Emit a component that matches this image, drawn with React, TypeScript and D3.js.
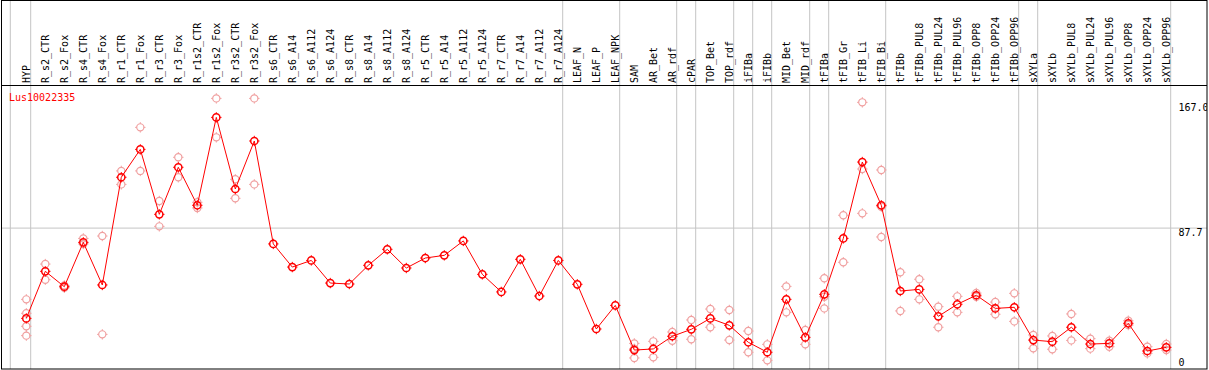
import React from "react";
import * as d3 from "d3";

const geneLabel = "Lus10022335";

const categories = [
  "HYP", "R_s2_CTR", "R_s2_Fox", "R_s4_CTR", "R_s4_Fox", "R_r1_CTR", "R_r1_Fox",
  "R_r3_CTR", "R_r3_Fox", "R_r1s2_CTR", "R_r1s2_Fox", "R_r3s2_CTR", "R_r3s2_Fox",
  "R_s6_CTR", "R_s6_A14", "R_s6_A112", "R_s6_A124", "R_s8_CTR", "R_s8_A14",
  "R_s8_A112", "R_s8_A124", "R_r5_CTR", "R_r5_A14", "R_r5_A112", "R_r5_A124",
  "R_r7_CTR", "R_r7_A14", "R_r7_A112", "R_r7_A124", "LEAF_N", "LEAF_P", "LEAF_NPK",
  "SAM", "AR_Bet", "AR_rdf", "cPAR", "TOP_Bet", "TOP_rdf", "iFIBa", "iFIBb",
  "MID_Bet", "MID_rdf", "tFIBa", "tFIB_Gr", "tFIB_Li", "tFIB_Bi", "tFIBb",
  "tFIBb_PUL8", "tFIBb_PUL24", "tFIBb_PUL96", "tFIBb_OPP8", "tFIBb_OPP24", "tFIBb_OPP96",
  "sXYLa", "sXYLb", "sXYLb_PUL8", "sXYLb_PUL24", "sXYLb_PUL96", "sXYLb_OPP8",
  "sXYLb_OPP24", "sXYLb_OPP96",
];

const means = [
  30.7, 60.4, 50.7, 78.7, 51.8, 119.8, 137.4,
  96.4, 126.1, 102.1, 157.6, 112.4, 142.7,
  77.7, 63.1, 67.3, 53.0, 52.4, 64.2,
  74.3, 62.5, 68.8, 70.5, 79.6, 58.5,
  47.4, 68.0, 44.8, 67.3, 52.2, 24.0, 38.9,
  10.7, 11.4, 19.4, 23.8, 30.7, 26.3, 15.6, 9.3,
  42.7, 18.7, 45.9, 81.2, 129.4, 102.1, 48.0,
  49.0, 32.0, 39.6, 45.3, 37.0, 37.7,
  17.0, 16.0, 25.1, 14.5, 14.9, 27.6,
  10.1, 12.4,
];

const replicates: number[][] = [
  [42.7, 33.9, 25.7, 19.8], [65.0, 55.1], [51.5, 50.0], [81.2, 77.7], [82.7, 20.6],
  [123.8, 115.3], [151.3, 123.8], [104.8, 88.8], [132.4, 119.8], [104.0, 100.4],
  [169.6, 145.0], [118.5, 106.5], [169.6, 115.3],
  [], [], [], [], [], [], [], [], [], [], [], [], [], [], [], [], [], [], [],
  [14.9, 11.5, 5.7], [16.2, 6.1], [22.1, 16.6], [29.7, 17.5], [36.6, 25.1],
  [36.0, 17.0], [22.7, 9.3], [14.3, 4.2], [50.9, 34.5], [23.4, 14.3],
  [56.0, 44.4, 37.0], [95.8, 66.1], [167.1, 125.0, 97.0], [124.4, 101.2, 82.1],
  [59.8, 35.4], [55.4, 42.7], [38.1, 25.1], [44.6, 34.5], [46.7, 44.4],
  [41.0, 33.3], [46.5, 28.8], [20.2, 11.8], [19.6, 11.2], [33.5, 16.8],
  [17.9, 11.6], [16.6, 12.8], [29.2, 26.5], [12.8, 8.6], [14.5, 10.7],
];

const separatorsAfter = [
  "HYP", "R_r7_A124", "LEAF_NPK", "AR_rdf", "cPAR", "TOP_rdf", "iFIBa", "iFIBb",
  "MID_rdf", "tFIBa", "tFIB_Bi", "tFIBb_OPP96", "sXYLa", "sXYLb_OPP96",
];

const yTicks = [0, 87.7, 167.0];
const yTickLabels = ["0", "87.7", "167.0"];
const gridTicks = [87.7];

const W = 1209;
const H = 370;
const FONT = "'DejaVu Sans Mono', monospace";

function Marker({ cx, cy, color, sw }: { cx: number; cy: number; color: string; sw: number }) {
  const r = 3.6;
  const angles = [0, 90, 180, 270];
  return (
    <g>
      <circle cx={cx} cy={cy} r={r} fill="none" stroke={color} strokeWidth={sw} />
      {angles.map((a) => {
        const rad = (a * Math.PI) / 180;
        return (
          <line
            key={a}
            x1={cx + Math.cos(rad) * r}
            y1={cy + Math.sin(rad) * r}
            x2={cx + Math.cos(rad) * (r + 1.6)}
            y2={cy + Math.sin(rad) * (r + 1.6)}
            stroke={color}
            strokeWidth={1}
          />
        );
      })}
    </g>
  );
}

export default function App() {
  const x = d3.scalePoint<string>().domain(categories).range([26.3, 1166.3]);
  const y = d3.scaleLinear().domain([0, 167]).range([367, 102.5]);
  const line = d3
    .line<number>()
    .x((_, i) => x(categories[i]) as number)
    .y((d) => y(d));

  const sepXs = [
    (x(categories[0]) as number) - 16,
    ...separatorsAfter.map((c) => (x(c) as number) + 4.4),
  ];

  return (
    <svg
      width={W}
      height={H}
      style={{ position: "absolute", left: 0, top: 0, background: "#fff" }}
    >
      <defs>
        <clipPath id="frame">
          <rect x={1.5} y={0.5} width={1205.5} height={368.5} />
        </clipPath>
      </defs>
      <rect x={0} y={0} width={W} height={H} fill="#fff" />
      <g clipPath="url(#frame)">
        {sepXs.map((sx, i) => (
          <line key={i} x1={sx} x2={sx} y1={0} y2={369} stroke="#c4c4c4" strokeWidth={1} />
        ))}
        {gridTicks.map((t) => (
          <line key={t} x1={1} x2={1207} y1={y(t)} y2={y(t)} stroke="#c4c4c4" strokeWidth={1} />
        ))}
        {categories.map((c) => (
          <text
            key={c}
            transform={`translate(${(x(c) as number) + 3.5},83) rotate(-90)`}
            fontFamily={FONT}
            fontSize={10}
            fill="#000"
          >
            {c}
          </text>
        ))}
        <text x={9} y={101} fontFamily={FONT} fontSize={10} fill="#ff0000">
          {geneLabel}
        </text>
        {yTicks.map((t, i) => (
          <text
            key={t}
            x={1178.5}
            y={Math.min(y(t) + 8.3, 365.5)}
            fontFamily={FONT}
            fontSize={10}
            fill="#000"
          >
            {yTickLabels[i]}
          </text>
        ))}
        {replicates.map((reps, i) =>
          reps.map((v, j) => (
            <Marker key={`${i}-${j}`} cx={x(categories[i]) as number} cy={y(v)} color="#f0a0a0" sw={1.2} />
          ))
        )}
        <path d={line(means) || ""} fill="none" stroke="#ff0000" strokeWidth={1} />
        {means.map((v, i) => (
          <Marker key={i} cx={x(categories[i]) as number} cy={y(v)} color="#ff0000" sw={1.5} />
        ))}
      </g>
      <line x1={1} x2={1207} y1={85.5} y2={85.5} stroke="#000" strokeWidth={1} />
      <rect x={1.5} y={0.5} width={1205.5} height={368.5} fill="none" stroke="#000" strokeWidth={1} />
    </svg>
  );
}
